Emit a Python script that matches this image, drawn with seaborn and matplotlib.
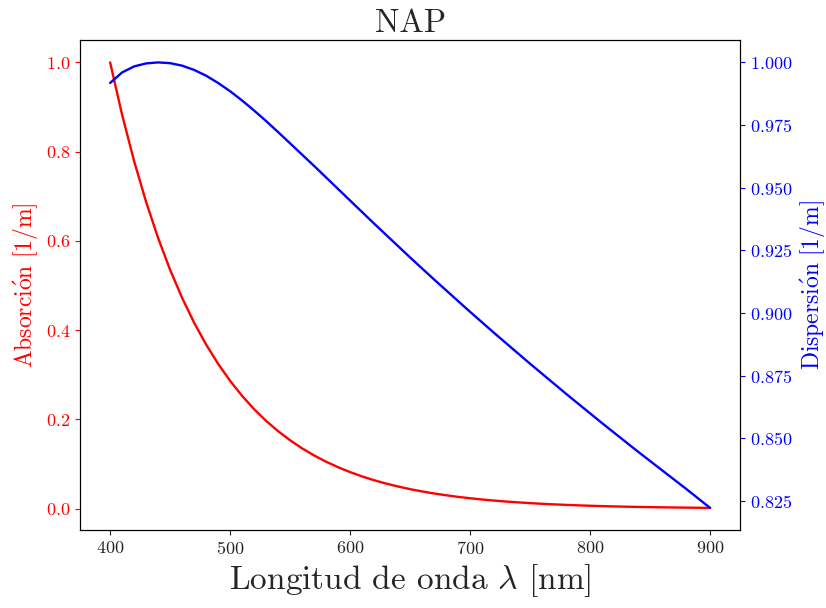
import matplotlib
matplotlib.use("Agg")
import matplotlib.pyplot as plt
import seaborn as sns

# longitudes de onda [nm]
lambdas = [400, 410, 420, 430, 440, 450, 460, 470, 480, 490,
           500, 510, 520, 530, 540, 550, 560, 570, 580, 590,
           600, 610, 620, 630, 640, 650, 660, 670, 680, 690,
           700, 710, 720, 730, 740, 750, 760, 770, 780, 790,
           800, 810, 820, 830, 840, 850, 860, 870, 880, 890, 900]

# absorción NAP [1/m]
absorcion = [1.000, 0.8825, 0.7788, 0.6873, 0.6065, 0.5353, 0.4724, 0.4169, 0.3679, 0.3247,
             0.2865, 0.2528, 0.2231, 0.1969, 0.1738, 0.1534, 0.1353, 0.1194, 0.1054, 0.0930,
             0.0821, 0.0724, 0.0639, 0.0564, 0.0498, 0.0439, 0.0388, 0.0342, 0.0302, 0.0266,
             0.0235, 0.0207, 0.0183, 0.0161, 0.0143, 0.0126, 0.0111, 0.0098, 0.0087, 0.0076,
             0.0067, 0.0059, 0.0052, 0.0046, 0.0041, 0.0036, 0.0032, 0.0028, 0.0025, 0.0022,
             0.0019]

# dispersión NAP [1/m]
dispersion = [0.9918, 0.9960, 0.9984, 0.9996, 1.0000, 0.9997, 0.9987, 0.9970, 0.9947, 0.9918,
              0.9885, 0.9848, 0.9808, 0.9766, 0.9722, 0.9677, 0.9632, 0.9587, 0.9541, 0.9495,
              0.9449, 0.9403, 0.9357, 0.9312, 0.9267, 0.9222, 0.9178, 0.9134, 0.9091, 0.9048,
              0.9005, 0.8963, 0.8921, 0.8880, 0.8839, 0.8798, 0.8758, 0.8718, 0.8678, 0.8639,
              0.8600, 0.8561, 0.8523, 0.8485, 0.8447, 0.8410, 0.8373, 0.8336, 0.8299, 0.8261,
              0.8223]

sns.set_style("ticks")
plt.rcParams["font.family"] = ["cmr10", "DejaVu Serif"]
plt.rcParams["mathtext.fontset"] = "cm"
plt.rcParams["axes.formatter.use_mathtext"] = True
plt.rcParams["axes.unicode_minus"] = False

fig, ax1 = plt.subplots(figsize=(8.26, 6.08), dpi=100)
fig.subplots_adjust(left=0.097, right=0.896, bottom=0.128, top=0.934)

sns.lineplot(x=lambdas, y=absorcion, ax=ax1, color="red", linewidth=1.7)
ax1.set_ylabel(r"$\mathrm{Absorci\acute{o}n\ [1/m]}$", color="red", fontsize=17)
ax1.tick_params(axis="y", colors="red", labelsize=13)
ax1.tick_params(axis="x", labelsize=13)
ax1.set_xlabel(r"Longitud de onda $\lambda$ [nm]", fontsize=24)
ax1.set_title("NAP", fontsize=23.5)

ax2 = ax1.twinx()
sns.lineplot(x=lambdas, y=dispersion, ax=ax2, color="blue", linewidth=1.7)
ax2.set_ylabel(r"$\mathrm{Dispersi\acute{o}n\ [1/m]}$", color="blue", fontsize=17)
ax2.tick_params(axis="y", colors="blue", labelsize=13)

for ax in (ax1, ax2):
    for s in ax.spines.values():
        s.set_color("black")

plt.savefig("out.png", dpi=100)
